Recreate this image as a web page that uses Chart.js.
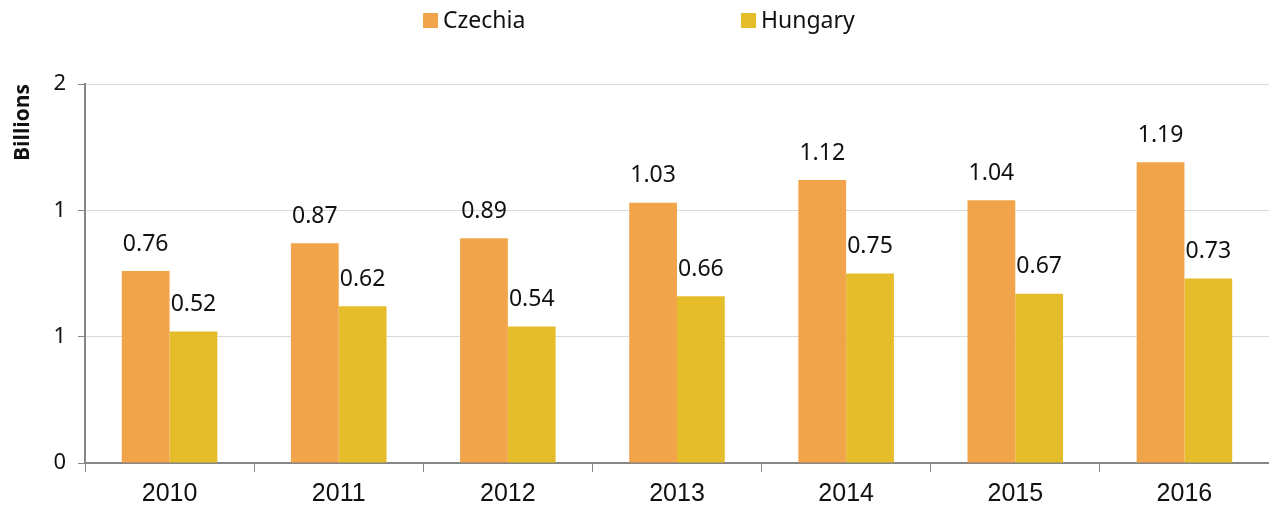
<!DOCTYPE html>
<html>
<head>
<meta charset="utf-8">
<script src="https://cdn.jsdelivr.net/npm/chart.js@4"></script>
<style>
  html, body { margin: 0; padding: 0; background: #fff; }
  #wrap { width: 1269px; height: 508px; }
</style>
</head>
<body>
<div id="wrap"><canvas id="billionsChart"></canvas></div>
<script>
// values (billions)
const years = ['2010', '2011', '2012', '2013', '2014', '2015', '2016'];
const czechia = [0.76, 0.87, 0.89, 1.03, 1.12, 1.04, 1.19];
const hungary = [0.52, 0.62, 0.54, 0.66, 0.75, 0.67, 0.73];
const yTickLabels = ['0', '1', '1', '2']; // the source rounds 0, 0.5, 1, 1.5

const orange = '#F2A44A';
const yellow = '#E5BD2B';

// draws the value above every bar
const valueLabels = {
    id: 'valueLabels',
    afterDatasetsDraw(chart) {
        const ctx = chart.ctx;
        ctx.save();
        ctx.font = '23px "Noto Sans"';
        ctx.fillStyle = '#111';
        ctx.textAlign = 'center';
        ctx.textBaseline = 'middle';
        chart.data.datasets.forEach((ds, i) => {
            chart.getDatasetMeta(i).data.forEach((bar, j) => {
                ctx.fillText(ds.data[j].toFixed(2), bar.x, bar.y - 27);
            });
        });
        ctx.restore();
    }
};

// legend spread wide at the top, like the source
const wideLegend = {
    id: 'wideLegend',
    afterDraw(chart) {
        const ctx = chart.ctx;
        const starts = [423, 741];
        ctx.save();
        ctx.font = '23px "Noto Sans"';
        ctx.textBaseline = 'middle';
        chart.data.datasets.forEach((ds, i) => {
            ctx.fillStyle = ds.backgroundColor;
            ctx.fillRect(starts[i], 13, 15, 15);
            ctx.fillStyle = '#111';
            ctx.fillText(ds.label, starts[i] + 20, 21);
        });
        ctx.restore();
    }
};

const ctx = document.getElementById('billionsChart').getContext('2d');
const billionsChart = new Chart(ctx, {
    type: 'bar',
    data: {
        labels: years,
        datasets: [{
            label: 'Czechia',
            data: czechia,
            backgroundColor: orange
        }, {
            label: 'Hungary',
            data: hungary,
            backgroundColor: yellow
        }]
    },
    options: {
        responsive: true,
        maintainAspectRatio: false,
        animation: false,
        layout: { padding: { top: 84, right: 0, left: 0, bottom: 0 } },
        datasets: {
            bar: { categoryPercentage: 0.565, barPercentage: 1.0 }
        },
        plugins: {
            legend: { display: false },
            tooltip: { enabled: false }
        },
        scales: {
            x: {
                grid: {
                    display: true,
                    drawOnChartArea: false,
                    offset: true,
                    color: '#868686',
                    tickLength: 9
                },
                border: { color: '#868686', width: 2 },
                ticks: {
                    color: '#111',
                    font: { family: '"Liberation Sans"', size: 25 },
                    padding: 7
                },
                afterFit(scale) { scale.height = 45; }
            },
            y: {
                min: 0,
                max: 1.5,
                ticks: {
                    stepSize: 0.5,
                    color: '#111',
                    font: { family: '"Noto Sans"', size: 22 },
                    padding: 12,
                    callback: (v, i) => yTickLabels[i]
                },
                grid: {
                    color: '#d9d9d9',
                    tickColor: '#868686',
                    tickLength: 7
                },
                border: { color: '#868686', width: 2 },
                title: {
                    display: true,
                    text: 'Billions',
                    align: 'end',
                    color: '#111',
                    font: { family: '"Open Sans"', size: 21, weight: 'bold' },
                    padding: { top: 10, bottom: 0 }
                },
                afterFit(scale) { scale.width = 85; }
            }
        }
    },
    plugins: [valueLabels, wideLegend]
});
</script>
</body>
</html>
